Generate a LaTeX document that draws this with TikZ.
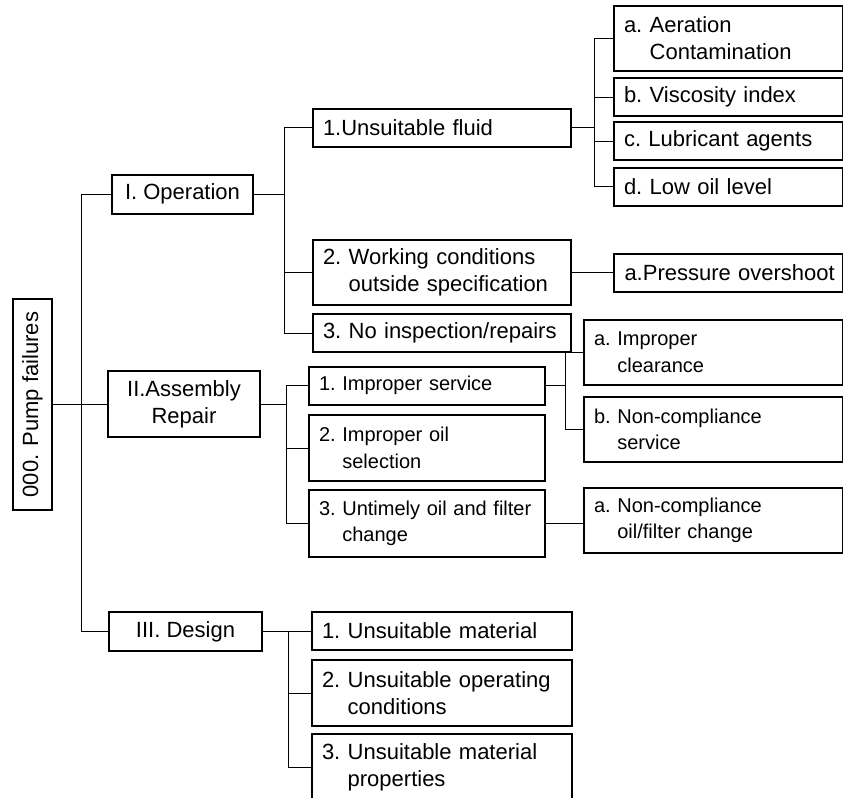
\documentclass[tikz,border=0pt]{standalone}
\usepackage{fontspec}
\setmainfont{Liberation Sans}
\usepackage{tikz}
\usetikzlibrary{positioning}
\tikzstyle{group} = [draw, line width=1pt, anchor=west, align=center, minimum height=19.5pt, inner sep=2pt, font=\fontsize{11}{13.5}\selectfont]
\tikzstyle{cause} = [draw, line width=1pt, anchor=west, align=left, inner xsep=5pt, inner ysep=2pt, minimum height=19pt, font=\fontsize{11}{13.5}\selectfont\frenchspacing]
\tikzstyle{small} = [font=\fontsize{10}{13.3}\selectfont\frenchspacing]
\tikzstyle{link} = [line width=0.5pt]

\begin{document}
\begin{tikzpicture}[x=0.5pt, y=-0.5pt]
\useasboundingbox (0,0) rectangle (843,798);

% Root
\node[group, rotate=90, anchor=center, minimum width=105.5pt] (pump) at (32.5,404.5) {000. Pump failures};

% Main groups
\node[group, minimum width=70.5pt] (oper) at (111,194) {I. Operation};
\node[group, minimum width=76pt, minimum height=33pt] (asm) at (107,404) {II.Assembly\\Repair};
\node[group, minimum width=76.5pt] (design) at (108,631.5) {III. Design};

% Operation
\node[cause, text width=119pt] (fluid) at (312,127.5) {1.Unsuitable fluid};
\node[cause, text width=119pt, minimum height=32.5pt] (work) at (312,272.5) {2. Working conditions\\\hphantom{2. }outside specification};
\node[cause, text width=119pt] (insp) at (312,333) {3. No inspection/repairs};

\node[cause, text width=104.5pt, minimum height=32.5pt] (aeration) at (613,38.5) {a. Aeration\\\hphantom{a. }Contamination};
\node[cause, text width=104.5pt] (viscosity) at (613,97) {b. Viscosity index};
\node[cause, text width=104.5pt] (lubricant) at (613,141) {c. Lubricant agents};
\node[cause, text width=104.5pt] (lowoil) at (613,186.5) {d. Low oil level};
\node[cause, text width=107pt, inner xsep=3.75pt] (pressure) at (613,272.5) {\hspace*{1.5pt}a.Pressure overshoot};

% Assembly / repair
\node[cause, small, text width=108pt] (service) at (308,385.5) {1. Improper service};
\node[cause, small, text width=108pt, minimum height=33pt] (oilsel) at (308,448) {2. Improper oil\\\hphantom{2. }selection};
\node[cause, small, text width=108pt, minimum height=33.5pt] (untimely) at (308,523.5) {3. Untimely oil and filter\\\hphantom{3. }change};

\node[cause, small, text width=119.5pt, minimum height=32.5pt] (clearance) at (583,352.5) {a. Improper\\\hphantom{a. }clearance};
\node[cause, small, text width=119.5pt, minimum height=32.5pt] (ncservice) at (583,429.5) {b. Non-compliance\\\hphantom{b. }service};
\node[cause, small, text width=119.5pt, minimum height=32.5pt] (ncoil) at (583,520.5) {a. Non-compliance\\\hphantom{a. }oil/filter change};

% Design
\node[cause, text width=120pt] (material) at (311,631) {1. Unsuitable material};
\node[cause, text width=120pt, minimum height=33pt] (opcond) at (311,693) {2. Unsuitable operating\\\hphantom{2. }conditions};
\node[cause, text width=120pt, minimum height=33pt] (props) at (311,767) {3. Unsuitable material\\\hphantom{3. }properties};

% Links
\draw[link] (pump.south) -- ++(28,0) |- (oper.west);
\draw[link] (pump.south) -- ++(28,0) |- (asm.west);
\draw[link] (pump.south) -- ++(28,0) |- (design.west);

\draw[link] (oper.east) -- ++(30,0) |- (fluid.west);
\draw[link] (oper.east) -- ++(30,0) |- (work.west);
\draw[link] (oper.east) -- ++(30,0) |- (insp.west);

\draw[link] (fluid.east) -- ++(22,0) |- (aeration.west);
\draw[link] (fluid.east) -- ++(22,0) |- (viscosity.west);
\draw[link] (fluid.east) -- ++(22,0) |- (lubricant.west);
\draw[link] (fluid.east) -- ++(22,0) |- (lowoil.west);
\draw[link] (work.east) -- (pressure.west);

\draw[link] (asm.east) -- ++(25,0) |- (service.west);
\draw[link] (asm.east) -- ++(25,0) |- (oilsel.west);
\draw[link] (asm.east) -- ++(25,0) |- (untimely.west);

\draw[link] (service.east) -- ++(19,0) |- (clearance.west);
\draw[link] (service.east) -- ++(19,0) |- (ncservice.west);
\draw[link] (untimely.east) -- (ncoil.west |- untimely.east);

\draw[link] (design.east) -- ++(25,0) |- (material.west);
\draw[link] (design.east) -- ++(25,0) |- (opcond.west);
\draw[link] (design.east) -- ++(25,0) |- (props.west);
\end{tikzpicture}
\end{document}
